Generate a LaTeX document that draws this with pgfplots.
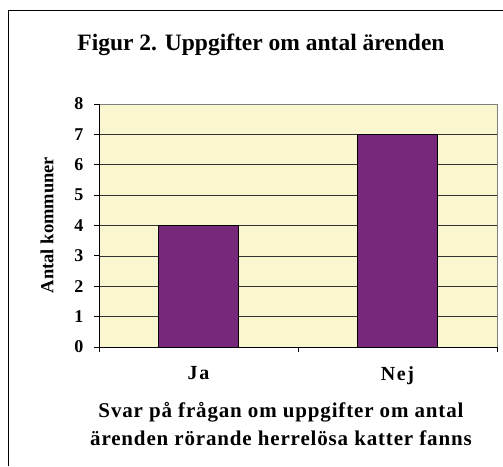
\documentclass[border=0pt]{standalone}
\usepackage{pgfplots}
\pgfplotsset{compat=1.18}
\usepackage{fontspec}
\setmainfont{Liberation Serif}
\definecolor{bgy}{RGB}{250,246,208}
\definecolor{barp}{RGB}{120,40,122}
\begin{document}
\begin{tikzpicture}[x=1pt,y=1pt]
\useasboundingbox (0,0) rectangle (503,466);
\draw[line width=1pt] (8.5,0) -- (8.5,455.5) -- (503,455.5);
\node[font=\bfseries\fontsize{23.5}{26}\selectfont] at (261,421) {Figur 2. Uppgifter om antal ärenden};
\begin{axis}[
  at={(99pt,119pt)}, anchor=south west,
  scale only axis, width=398pt, height=243pt,
  xmin=-0.5, xmax=1.5, ymin=0, ymax=8,
  ytick={0,1,...,8},
  xtick={-0.5,0.5,1.5}, xticklabels={},
  extra x ticks={0,1}, extra x tick labels={Ja,Nej},
  extra x tick style={major tick length=0pt, grid=none,
     xticklabel style={yshift=-16pt}},
  xtick pos=bottom, ytick pos=left,
  tick align=outside, major tick length=5pt,
  tick style={black, line width=0.8pt},
  axis background/.style={fill=bgy},
  ymajorgrids, grid style={black!80, line width=0.6pt},
  axis line style={black, line width=0.8pt},
  ticklabel style={font=\bfseries\fontsize{18}{20}\selectfont},
  xticklabel style={font=\bfseries\fontsize{20}{22}\selectfont\addfontfeature{LetterSpace=8}},
  /pgf/number format/assume math mode=true,
  yticklabel style={xshift=-7pt},
  clip=false,
  ybar, bar width=80pt,
]
\addplot[fill=barp, draw=black, line width=0.8pt] coordinates {(0,4) (1,7)};
\end{axis}
\draw[gray, line width=0.8pt] (99,362) -- (497,362) -- (497,119);
\draw[black, line width=0.8pt] (99,119) -- (497,119);
\draw[black, line width=0.8pt] (99,119) -- (99,362);
\node[rotate=90, font=\bfseries\fontsize{18.5}{20}\selectfont] at (47,241) {Antal kommuner};
\node[font=\bfseries\fontsize{21}{28}\selectfont\addfontfeature{LetterSpace=4}, align=center] at (281,42) {Svar på frågan om uppgifter om antal\\ärenden rörande herrelösa katter fanns};
\end{tikzpicture}
\end{document}
